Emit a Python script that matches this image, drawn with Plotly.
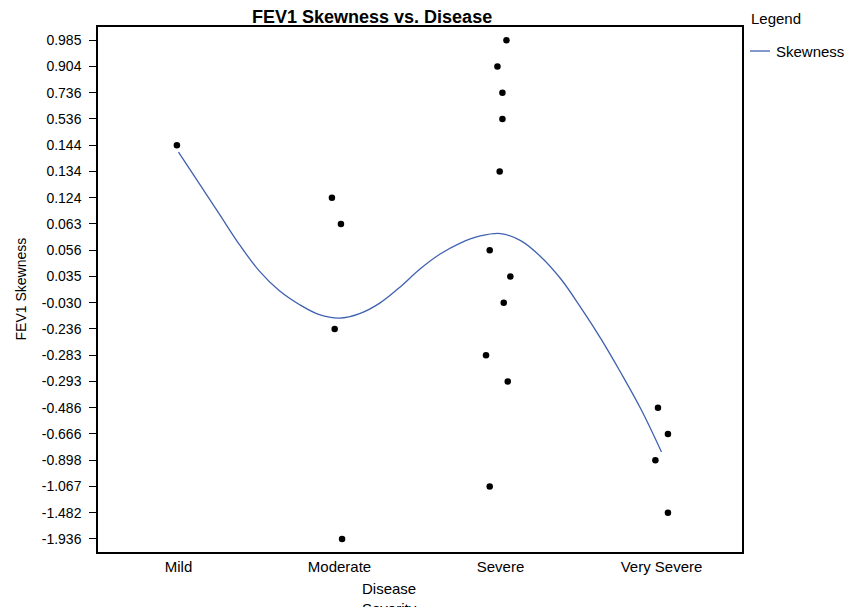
import plotly.graph_objects as go

# ---- data ----
categories = ["Mild", "Moderate", "Severe", "Very Severe"]

point_group = ["Mild",
               "Moderate", "Moderate", "Moderate", "Moderate",
               "Severe", "Severe", "Severe", "Severe", "Severe", "Severe",
               "Severe", "Severe", "Severe", "Severe", "Severe",
               "Very Severe", "Very Severe", "Very Severe", "Very Severe"]
point_value = [0.144,
               0.124, 0.063, -0.236, -1.936,
               0.985, 0.904, 0.736, 0.536, 0.134, 0.056,
               0.035, -0.030, -0.283, -0.293, -1.067,
               -0.486, -0.666, -0.898, -1.482]
point_jitter = [-0.01,
                -0.047, 0.009, -0.030, 0.016,
                0.037, -0.019, 0.012, 0.012, -0.005, -0.067,
                0.061, 0.020, -0.090, 0.045, -0.067,
                -0.022, 0.040, -0.038, 0.040]

# smoothed "Skewness" curve (x in category units, y in rank units of the category axis)
curve_x = [0.0, 0.125, 0.25, 0.375, 0.5, 0.625, 0.75, 0.875, 1.0, 1.125, 1.25,
           1.375, 1.5, 1.625, 1.75, 1.875, 2.0, 2.125, 2.25, 2.375, 2.5,
           2.625, 2.75, 2.875, 3.0]
curve_y = [4.27, 5.43, 6.59, 7.76, 8.78, 9.54, 10.07, 10.46, 10.59, 10.42, 10.02,
           9.41, 8.72, 8.15, 7.73, 7.46, 7.37, 7.64, 8.25, 9.10, 10.20,
           11.39, 12.70, 14.09, 15.69]

# y-axis categories: the observed values in descending order
y_labels = [f"{v:.3f}" for v in sorted(point_value, reverse=True)]

# ---- derived positions ----
cat_index = {c: i for i, c in enumerate(categories)}
px = [cat_index[g] + j for g, j in zip(point_group, point_jitter)]
py = [y_labels.index(f"{v:.3f}") for v in point_value]

FONT = "Liberation Sans, Arial, sans-serif"
LINE_COLOR = "#3f62b0"

fig = go.Figure()
fig.add_trace(go.Scatter(
    x=curve_x, y=curve_y, mode="lines", name="Skewness",
    line=dict(color=LINE_COLOR, width=1.3, shape="spline", smoothing=1.0),
    showlegend=False, hoverinfo="skip"))
fig.add_trace(go.Scatter(
    x=px, y=py, mode="markers", name="points",
    marker=dict(color="black", size=6.5),
    showlegend=False,
    text=[f"{g}: {v:.3f}" for g, v in zip(point_group, point_value)],
    hoverinfo="text"))

W, H = 848, 607
L, R, T, B = 98, 106, 27, 55
pw, ph = W - L - R, H - T - B


def pxx(x):
    return (x - L) / pw


def pyy(y):
    return (H - B - y) / ph


fig.update_layout(
    width=W, height=H,
    margin=dict(l=L, r=R, t=T, b=B, autoexpand=False),
    paper_bgcolor="white", plot_bgcolor="white",
    font=dict(family=FONT, color="black", size=14),
    showlegend=False,
    xaxis=dict(range=[-0.5, 3.5], tickmode="array",
               tickvals=list(range(len(categories))), ticktext=categories,
               showgrid=False, zeroline=False, showline=True, linecolor="black",
               linewidth=1.5, mirror=True, ticks="", tickfont=dict(size=15),
               fixedrange=True),
    yaxis=dict(range=[len(y_labels) - 0.5, -0.5], tickmode="array",
               tickvals=list(range(len(y_labels))), ticktext=y_labels,
               showgrid=False, zeroline=False, showline=True, linecolor="black",
               linewidth=1.5, mirror=True, ticks="outside", ticklen=7,
               tickcolor="black", tickwidth=1, tickfont=dict(size=14),
               ticklabelstandoff=5, fixedrange=True),
    annotations=[
        dict(text="<b>FEV1 Skewness vs. Disease</b>", x=pxx(372), y=pyy(17),
             xref="paper", yref="paper", xanchor="center", yanchor="middle",
             showarrow=False, font=dict(size=18)),
        dict(text="FEV1 Skewness", x=pxx(20), y=0.5, textangle=-90,
             xref="paper", yref="paper", xanchor="center", yanchor="middle",
             showarrow=False, font=dict(size=14)),
        dict(text="Disease<br>Severity", x=pxx(389), y=pyy(578),
             xref="paper", yref="paper", xanchor="center", yanchor="top",
             showarrow=False, font=dict(size=15)),
        dict(text="Legend", x=pxx(749), y=pyy(19),
             xref="paper", yref="paper", xanchor="left", yanchor="middle",
             showarrow=False, font=dict(size=15)),
        dict(text="Skewness", x=pxx(774), y=pyy(51),
             xref="paper", yref="paper", xanchor="left", yanchor="middle",
             showarrow=False, font=dict(size=15)),
    ],
    shapes=[dict(type="line", xref="paper", yref="paper",
                 x0=pxx(750), x1=pxx(770), y0=pyy(51), y1=pyy(51),
                 line=dict(color=LINE_COLOR, width=1.3))],
)

fig.write_html("out.html")
